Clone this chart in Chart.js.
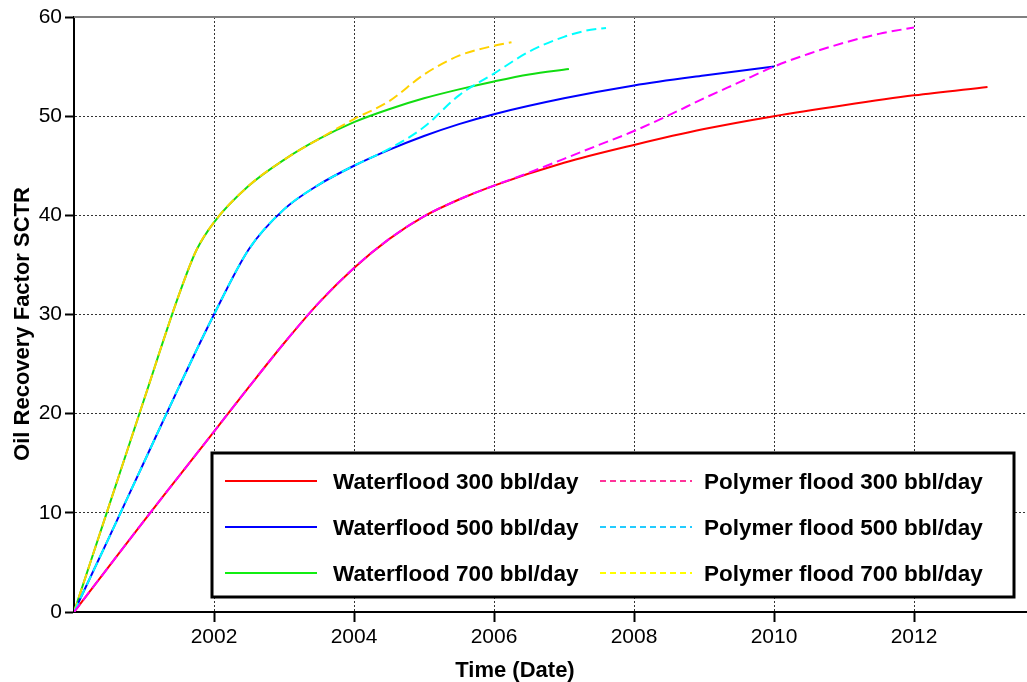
<!DOCTYPE html>
<html>
<head>
<meta charset="utf-8">
<script src="https://cdn.jsdelivr.net/npm/chart.js@4/dist/chart.umd.min.js"></script>
<style>
  html, body { margin: 0; padding: 0; background: #fff; }
  #wrap { width: 1027px; height: 682px; }
</style>
</head>
<body>
<div id="wrap"><canvas id="c" width="1027" height="682"></canvas></div>
<script>
// Recovery factor (%) versus time (decimal years) for each injection case.
const wf300Years = [2000, 2000.5, 2001, 2001.5, 2002, 2002.5, 2003, 2003.5, 2004, 2004.5, 2005, 2005.5, 2006, 2007, 2008, 2009, 2010, 2011, 2012, 2013.05];
const wf300      = [0, 4.6, 9.2, 13.7, 18.2, 22.7, 27.1, 31.2, 34.7, 37.6, 39.9, 41.6, 43.0, 45.3, 47.1, 48.7, 50.0, 51.1, 52.1, 52.95];

const wf500Years = [2000, 2000.5, 2001, 2001.5, 2002, 2002.5, 2003, 2003.5, 2004, 2004.5, 2005, 2005.5, 2006, 2007, 2008, 2009, 2010];
const wf500      = [0, 7.5, 15.1, 22.7, 30.0, 36.6, 40.6, 43.1, 45.0, 46.6, 48.0, 49.2, 50.2, 51.8, 53.1, 54.1, 55.0];

const wf700Years = [2000, 2000.5, 2001, 2001.5, 2001.75, 2002, 2002.5, 2003, 2003.5, 2004, 2004.5, 2005, 2005.5, 2006, 2006.5, 2007.07];
const wf700      = [0, 10.7, 21.4, 32.0, 36.5, 39.3, 43.0, 45.6, 47.7, 49.4, 50.7, 51.8, 52.7, 53.5, 54.2, 54.75];

const pf300Years = [2000, 2000.5, 2001, 2001.5, 2002, 2002.5, 2003, 2003.5, 2004, 2004.5, 2005, 2005.5, 2006, 2006.5, 2007, 2007.5, 2008, 2008.5, 2009, 2009.5, 2010, 2010.5, 2011, 2011.5, 2012];
const pf300      = [0, 4.6, 9.2, 13.7, 18.2, 22.7, 27.1, 31.2, 34.7, 37.6, 39.9, 41.6, 43.0, 44.3, 45.7, 47.1, 48.5, 50.1, 51.8, 53.4, 55.0, 56.3, 57.4, 58.3, 58.95];

const pf500Years = [2000, 2000.5, 2001, 2001.5, 2002, 2002.5, 2003, 2003.5, 2004, 2004.5, 2005, 2005.5, 2006, 2006.5, 2007, 2007.3, 2007.6];
const pf500      = [0, 7.5, 15.1, 22.7, 30.0, 36.6, 40.6, 43.1, 45.0, 46.7, 48.9, 52.1, 54.3, 56.5, 58.0, 58.6, 58.9];

const pf700Years = [2000, 2000.5, 2001, 2001.5, 2001.75, 2002, 2002.5, 2003, 2003.5, 2004, 2004.5, 2005, 2005.5, 2006, 2006.25];
const pf700      = [0, 10.7, 21.4, 32.0, 36.5, 39.3, 43.0, 45.6, 47.7, 49.7, 51.5, 54.2, 56.1, 57.1, 57.45];

const seriesLabels = [
  'Waterflood 300 bbl/day', 'Waterflood 500 bbl/day', 'Waterflood 700 bbl/day',
  'Polymer flood 300 bbl/day', 'Polymer flood 500 bbl/day', 'Polymer flood 700 bbl/day'
];
const xTickYears = [2000, 2002, 2004, 2006, 2008, 2010, 2012];
const yAxisTitle = 'Oil Recovery Factor SCTR';
const xAxisTitle = 'Time (Date)';

// Styling
const lineColors   = ['#ff0000', '#0000ff', '#11dd11', '#ff00ff', '#00ffff', '#ffd200'];
const legendColors = ['#ff0000', '#0000ff', '#11ee11', '#ff3399', '#22ccff', '#ffff00'];
const FONT = "'Liberation Sans', Arial, sans-serif";

const pairs = (xs, ys) => xs.map((x, i) => ({ x: x, y: ys[i] }));
const seriesData = [
  pairs(wf300Years, wf300), pairs(wf500Years, wf500), pairs(wf700Years, wf700),
  pairs(pf300Years, pf300), pairs(pf500Years, pf500), pairs(pf700Years, pf700)
];

const datasets = seriesData.map((d, i) => {
  const polymer = i >= 3;
  return {
    label: seriesLabels[i],
    data: d,
    borderColor: lineColors[i],
    borderWidth: 2,
    borderDash: polymer ? [10, 5] : [],
    pointRadius: 0,
    fill: false,
    cubicInterpolationMode: 'monotone',
    order: polymer ? 1 : 2
  };
});

// Frame, axis titles and the boxed two-column legend
const decorations = {
  id: 'decorations',
  afterDatasetsDraw(chart) {
    const { ctx, chartArea } = chart;
    ctx.save();
    // top frame line
    ctx.strokeStyle = '#808080';
    ctx.lineWidth = 2;
    ctx.beginPath();
    ctx.moveTo(chartArea.left, chartArea.top);
    ctx.lineTo(chartArea.right, chartArea.top);
    ctx.stroke();

    // legend box
    const bx = 212, by = 453, bw = 802, bh = 144;
    ctx.fillStyle = '#ffffff';
    ctx.fillRect(bx, by, bw, bh);
    ctx.strokeStyle = '#000000';
    ctx.lineWidth = 3;
    ctx.strokeRect(bx, by, bw, bh);

    const rowsY = [481, 527, 573];
    const cols = [
      { x1: 225, x2: 317, tx: 333 },
      { x1: 600, x2: 692, tx: 704 }
    ];
    ctx.font = 'bold 22.5px ' + FONT;
    ctx.textAlign = 'left';
    ctx.textBaseline = 'alphabetic';
    chart.data.datasets.forEach((ds, i) => {
      const col = cols[i < 3 ? 0 : 1];
      const y = rowsY[i % 3];
      ctx.strokeStyle = legendColors[i];
      ctx.lineWidth = 2;
      ctx.setLineDash(i < 3 ? [] : [6, 4]);
      ctx.beginPath();
      ctx.moveTo(col.x1, y);
      ctx.lineTo(col.x2, y);
      ctx.stroke();
      ctx.setLineDash([]);
      ctx.fillStyle = '#000000';
      ctx.fillText(ds.label, col.tx, y + 8);
    });

    // axis titles
    ctx.fillStyle = '#000000';
    ctx.font = 'bold 22px ' + FONT;
    ctx.textAlign = 'center';
    ctx.fillText(xAxisTitle, 515, 677);
    ctx.translate(29, 324);
    ctx.rotate(-Math.PI / 2);
    ctx.fillText(yAxisTitle, 0, 0);
    ctx.restore();
  }
};

const hiddenAt = (values) => (c) => (c.tick && values.includes(c.tick.value)) ? 'rgba(0,0,0,0)' : '#333333';

new Chart(document.getElementById('c'), {
  type: 'line',
  data: { datasets: datasets },
  options: {
    responsive: false,
    animation: false,
    devicePixelRatio: 1,
    layout: { padding: { top: 17, right: 0, left: 0, bottom: 0 } },
    plugins: { legend: { display: false }, tooltip: { enabled: false } },
    scales: {
      x: {
        type: 'linear',
        min: 2000,
        max: 2000 + (1027 - 74) / 70,
        afterBuildTicks: (scale) => { scale.ticks = xTickYears.map(v => ({ value: v })); },
        afterFit: (scale) => { scale.height = 70; },
        ticks: {
          color: '#000',
          font: { family: FONT, size: 21 },
          padding: 3,
          maxRotation: 0,
          autoSkip: false,
          callback: (v) => v === 2000 ? '' : String(v)
        },
        grid: {
          color: hiddenAt([2000]),
          lineWidth: 1,
          tickLength: 10,
          tickColor: (c) => (c.tick && c.tick.value === 2000) ? 'rgba(0,0,0,0)' : '#000',
          tickWidth: 2,
          tickBorderDash: []
        },
        border: { display: true, color: '#000', width: 2, dash: [2, 2] }
      },
      y: {
        min: 0,
        max: 60,
        afterFit: (scale) => { scale.width = 74; },
        ticks: {
          stepSize: 10,
          color: '#000',
          font: { family: FONT, size: 21 },
          padding: 3
        },
        grid: {
          color: hiddenAt([0, 60]),
          lineWidth: 1,
          tickLength: 9,
          tickColor: '#000',
          tickWidth: 2,
          tickBorderDash: []
        },
        border: { display: true, color: '#000', width: 2, dash: [2, 2] }
      }
    }
  },
  plugins: [decorations]
});
</script>
</body>
</html>
